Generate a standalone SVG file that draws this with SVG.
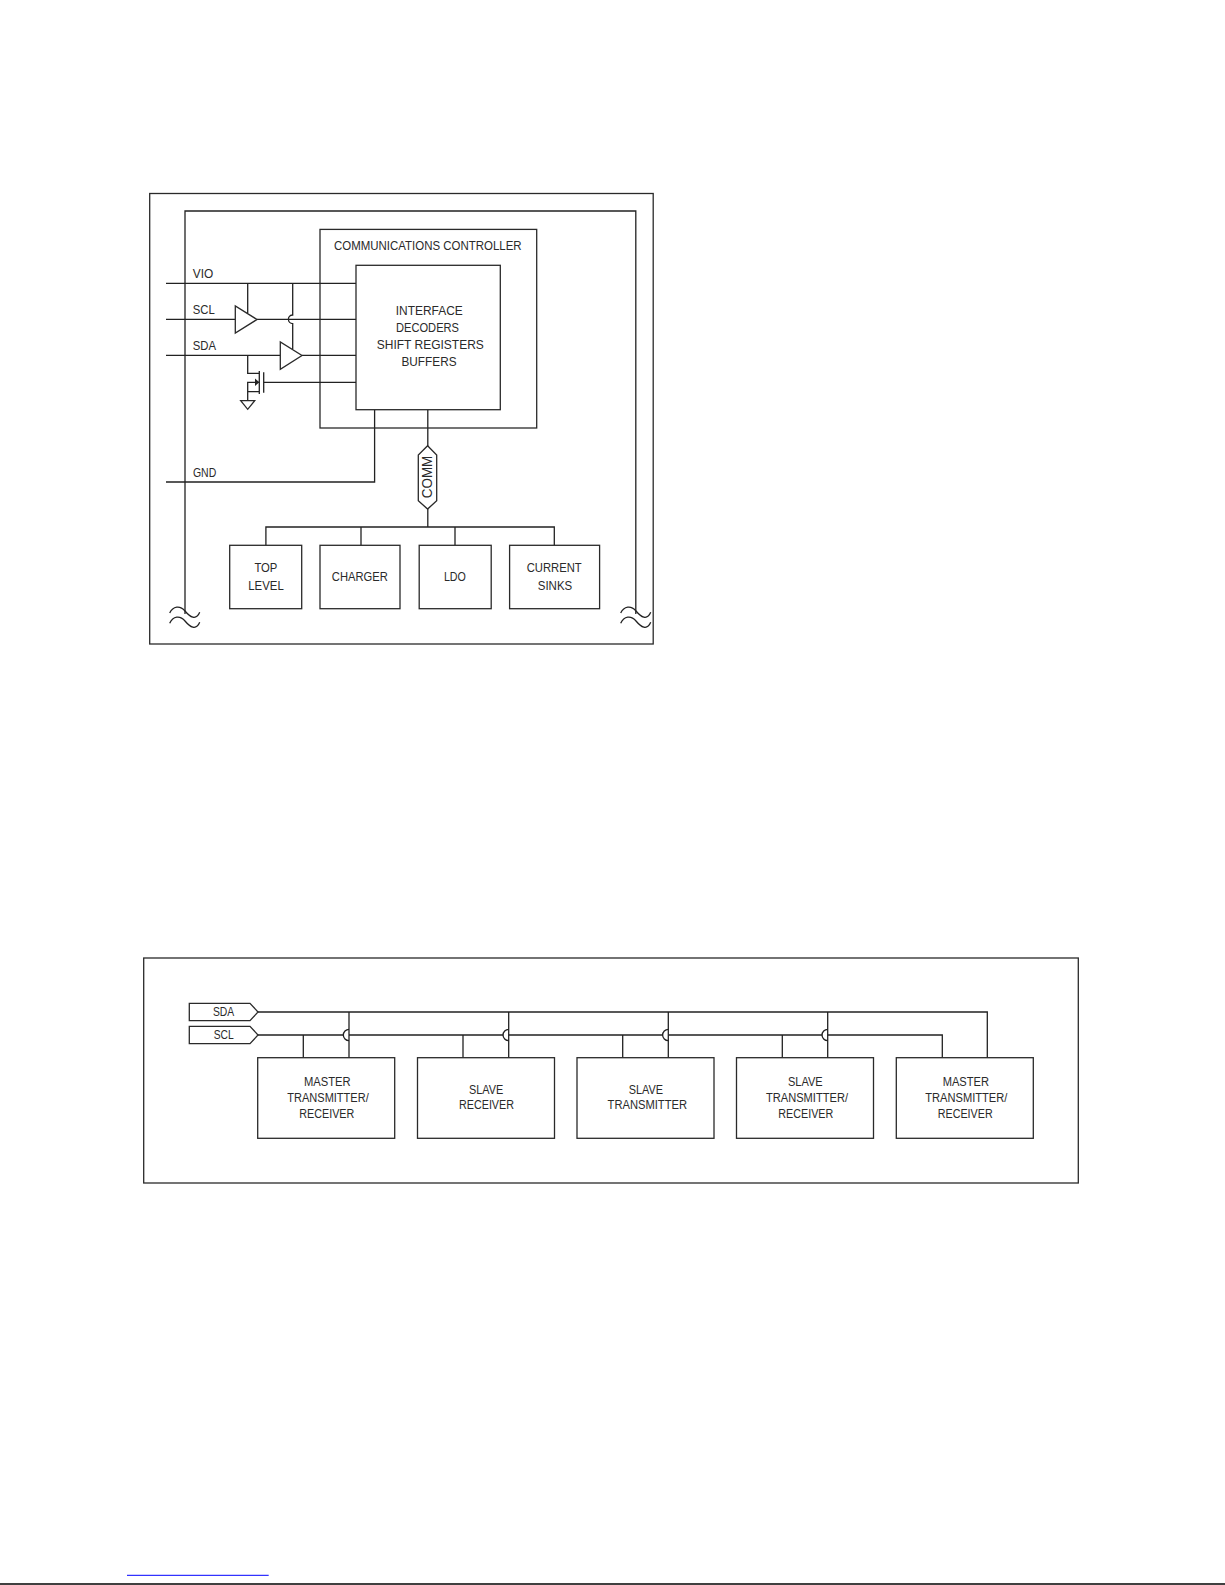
<svg xmlns="http://www.w3.org/2000/svg" width="1225" height="1585" viewBox="0 0 1225 1585">
<style>
.b{fill:none;stroke:#2a2a2a;stroke-width:1.3}
.w{fill:#fff;stroke:#2a2a2a;stroke-width:1.3}
.l{fill:none;stroke:#222;stroke-width:1.3}
text{font-family:"Liberation Sans",Arial,sans-serif;fill:#2a2a2a;text-anchor:middle}
.t1{font-size:13px}
.t2{font-size:12px}
.t3{font-size:14.5px}
</style>
<rect width="1225" height="1585" fill="#fff"/>
<g id="figure1-frame"><rect class="b" x="149.7" y="193.5" width="503.5" height="450.5"/></g>
<g id="connectors-figure1">
<path class="l" d="M185 614V211H635.8V614"/>
<path class="l" d="M166 283.3H356M166 319.3H235.3M257 319.3H356M166 355.3H280.3M302 355.3H356"/>
<path class="l" d="M247.7 283.3V313M292.7 283.3V315A4.3 4.3 0 0 0 292.7 323.6V349"/>
<path class="l" d="M166 482H374.6V410"/>
<path class="l" d="M427.8 410V446M427.8 509V527M265.9 545.3V527H554.3V545.3M361 527V545.3M455 527V545.3"/>
</g>
<g id="squiggles">
<path class="l" d="M169.7 613C173 606 180 605 185 611C190 617 196 621 199.7 612.3M169.7 623.3C173 616 180 615 185 621C190 627 196 631 199.7 622.3"/>
<path class="l" d="M620.7 613C624 606 631 605 636 611C641 617 647 621 650.7 612.3M620.7 623.3C624 616 631 615 636 621C641 627 647 631 650.7 622.3"/>
</g>
<g id="communications-controller"><rect class="b" x="320" y="229.4" width="216.7" height="198.6"/>
<text class="t1" x="427.8" y="250.4" textLength="187.7" lengthAdjust="spacingAndGlyphs">COMMUNICATIONS CONTROLLER</text></g>
<g id="interface"><rect class="w" x="356" y="265.3" width="144.3" height="144.4"/>
<text class="t1" x="429.3" y="315.4" textLength="67" lengthAdjust="spacingAndGlyphs">INTERFACE</text>
<text class="t1" x="427.5" y="332.1" textLength="63" lengthAdjust="spacingAndGlyphs">DECODERS</text>
<text class="t1" x="430.3" y="349.4" textLength="107" lengthAdjust="spacingAndGlyphs">SHIFT REGISTERS</text>
<text class="t1" x="429" y="366.1" textLength="55" lengthAdjust="spacingAndGlyphs">BUFFERS</text></g>
<g id="pin-labels">
<text class="t1" x="203" y="278.2" textLength="20.5" lengthAdjust="spacingAndGlyphs">VIO</text>
<text class="t1" x="203.7" y="314.2" textLength="22" lengthAdjust="spacingAndGlyphs">SCL</text>
<text class="t1" x="204.3" y="350.2" textLength="23.3" lengthAdjust="spacingAndGlyphs">SDA</text>
<text class="t1" x="204.6" y="476.5" textLength="23.3" lengthAdjust="spacingAndGlyphs">GND</text></g>
<g id="buffer-scl"><path class="w" d="M235.3 306V333L257 319.5Z"/></g>
<g id="buffer-sda"><path class="w" d="M280.3 342V369.3L302 355.5Z"/></g>
<g id="fet">
<path class="l" d="M247.7 355.3V373.3H259.3M259.3 371V394M263.7 372.3V392.7M263.7 382.3H356M259.3 382.3H247.7V400.7M259.3 391.7H247.7"/>
<path d="M259.3 382.3L255 378.5V386.1Z" fill="#222"/>
<path class="b" d="M240.7 400.7H254.7L247.7 409.3Z"/>
</g>
<g id="comm"><path class="w" d="M427.6 445.7L436.7 455V500.7L427.6 509L418.3 500.7V455Z"/>
<text class="t3" transform="translate(432.2 477) rotate(-90)" x="0" y="0" textLength="42.6" lengthAdjust="spacingAndGlyphs">COMM</text></g>
<g id="top-level"><rect class="b" x="229.7" y="545.3" width="72" height="63.4"/>
<text class="t1" x="265.9" y="572.2" textLength="23" lengthAdjust="spacingAndGlyphs">TOP</text>
<text class="t1" x="266" y="589.5" textLength="35.5" lengthAdjust="spacingAndGlyphs">LEVEL</text></g>
<g id="charger"><rect class="b" x="320" y="545.3" width="80" height="63.4"/>
<text class="t1" x="359.8" y="580.8" textLength="56" lengthAdjust="spacingAndGlyphs">CHARGER</text></g>
<g id="ldo"><rect class="b" x="419.2" y="545.3" width="72" height="63.4"/>
<text class="t1" x="454.9" y="580.8" textLength="22" lengthAdjust="spacingAndGlyphs">LDO</text></g>
<g id="current-sinks"><rect class="b" x="509.6" y="545.3" width="90" height="63.4"/>
<text class="t1" x="554.2" y="572.2" textLength="55" lengthAdjust="spacingAndGlyphs">CURRENT</text>
<text class="t1" x="555" y="589.5" textLength="34.5" lengthAdjust="spacingAndGlyphs">SINKS</text></g>

<g id="figure2-frame"><rect class="b" x="143.7" y="958" width="934.6" height="225"/></g>
<g id="connectors-figure2">
<path class="l" d="M258 1012H987.3V1057.7M349 1012V1057.7M508.7 1012V1057.7M668.3 1012V1057.7M827.7 1012V1057.7"/>
<path class="l" d="M258 1035H343.5M349 1035H503.2M508.7 1035H662.8M668.3 1035H822.2M827.7 1035H942.3V1057.7"/>
<path class="l" d="M349 1029.3A5.7 5.7 0 0 0 349 1040.7M508.7 1029.3A5.7 5.7 0 0 0 508.7 1040.7M668.3 1029.3A5.7 5.7 0 0 0 668.3 1040.7M827.7 1029.3A5.7 5.7 0 0 0 827.7 1040.7"/>
<path class="l" d="M303.3 1035V1057.7M463 1035V1057.7M622.7 1035V1057.7M782.3 1035V1057.7"/>
</g>
<g id="sda-port"><path class="b" d="M189.3 1003.3H250L258 1012L250 1020.7H189.3Z"/>
<text class="t2" x="223.6" y="1016" textLength="21.3" lengthAdjust="spacingAndGlyphs">SDA</text></g>
<g id="scl-port"><path class="b" d="M189.3 1026.3H250L258 1035L250 1043.7H189.3Z"/>
<text class="t2" x="223.7" y="1039" textLength="20" lengthAdjust="spacingAndGlyphs">SCL</text></g>
<g id="master-1"><rect class="b" x="257.7" y="1057.7" width="137" height="80.6"/>
<text class="t2" x="327.3" y="1086" textLength="46.7" lengthAdjust="spacingAndGlyphs">MASTER</text>
<text class="t2" x="328" y="1102" textLength="81.4" lengthAdjust="spacingAndGlyphs">TRANSMITTER/</text>
<text class="t2" x="326.8" y="1117.7" textLength="55" lengthAdjust="spacingAndGlyphs">RECEIVER</text></g>
<g id="slave-receiver"><rect class="b" x="417.5" y="1057.7" width="137" height="80.6"/>
<text class="t2" x="486.2" y="1094" textLength="34.3" lengthAdjust="spacingAndGlyphs">SLAVE</text>
<text class="t2" x="486.5" y="1109.3" textLength="55" lengthAdjust="spacingAndGlyphs">RECEIVER</text></g>
<g id="slave-transmitter"><rect class="b" x="577" y="1057.7" width="137" height="80.6"/>
<text class="t2" x="645.8" y="1094" textLength="34.3" lengthAdjust="spacingAndGlyphs">SLAVE</text>
<text class="t2" x="647.3" y="1109.3" textLength="79.5" lengthAdjust="spacingAndGlyphs">TRANSMITTER</text></g>
<g id="slave-transceiver"><rect class="b" x="736.5" y="1057.7" width="137" height="80.6"/>
<text class="t2" x="805.3" y="1086" textLength="34.7" lengthAdjust="spacingAndGlyphs">SLAVE</text>
<text class="t2" x="807" y="1102" textLength="82" lengthAdjust="spacingAndGlyphs">TRANSMITTER/</text>
<text class="t2" x="805.8" y="1117.7" textLength="55" lengthAdjust="spacingAndGlyphs">RECEIVER</text></g>
<g id="master-2"><rect class="b" x="896.3" y="1057.7" width="137" height="80.6"/>
<text class="t2" x="965.8" y="1086" textLength="46.3" lengthAdjust="spacingAndGlyphs">MASTER</text>
<text class="t2" x="966.3" y="1102" textLength="82" lengthAdjust="spacingAndGlyphs">TRANSMITTER/</text>
<text class="t2" x="965.2" y="1117.7" textLength="55" lengthAdjust="spacingAndGlyphs">RECEIVER</text></g>
<g id="page-lines">
<path d="M127 1575.3H268.7" stroke="#0000ff" stroke-width="1" fill="none"/>
<path d="M0 1584H1225" stroke="#000" stroke-width="1.3" fill="none"/>
</g>
</svg>
